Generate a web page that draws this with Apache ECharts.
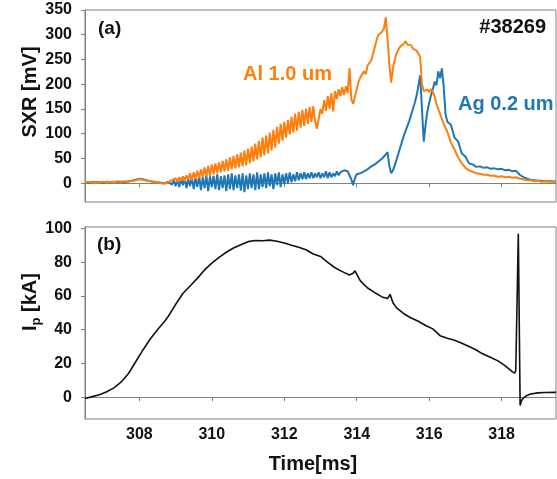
<!DOCTYPE html>
<html>
<head>
<meta charset="utf-8">
<script src="https://cdn.jsdelivr.net/npm/echarts@6/dist/echarts.min.js"></script>
<style>
html,body{margin:0;padding:0;background:#fff;}
#c{width:557px;height:479px;}
</style>
</head>
<body>
<div id="c"></div>
<script>
// ---- data ----
var tSxr = [
306.5,306.6,306.7,306.8,306.9,307.0,307.1,307.2,307.3,307.4,307.5,307.6,307.7,307.8,307.9,308.0,308.1,308.2,308.3,308.4,308.5,308.6,308.7,308.8,
308.85,308.9,308.95,309.0,
309.05,309.1,309.15,309.2,309.25,309.3,309.35,309.4,309.45,309.5,
309.55,309.6,309.65,309.7,309.75,309.8,309.85,309.9,309.95,310.0,
310.05,310.1,310.15,310.2,310.25,310.3,310.35,310.4,310.45,310.5,
310.55,310.6,310.65,310.7,310.75,310.8,310.85,310.9,310.95,311.0,
311.05,311.1,311.15,311.2,311.25,311.3,311.35,311.4,311.45,311.5,
311.55,311.6,311.65,311.7,311.75,311.8,311.85,311.9,311.95,312.0,
312.05,312.1,312.15,312.2,312.25,312.3,312.35,312.4,312.45,312.5,
312.55,312.6,312.65,312.7,312.75,312.8,312.85,312.9,312.95,313.0,
313.05,313.1,313.15,313.2,313.25,313.3,313.35,313.4,313.45,313.5,
313.55,313.6,313.65,313.7,313.75,313.8,313.85,313.9,313.95,314.0,
314.05,314.1,314.15,314.2,314.25,314.3,314.35,314.4,314.45,314.5,
314.55,314.6,314.65,314.7,314.75,314.8,314.85,314.9,314.95,315.0,
315.05,315.1,315.15,315.2,315.25,315.3,315.35,315.4,315.45,315.5,
315.55,315.6,315.65,315.7,315.75,315.8,315.85,315.9,315.95,316.0,
316.05,316.1,316.15,316.2,316.25,316.3,316.35,316.4,316.45,316.5,
316.6,316.7,316.8,316.9,317.0,317.1,317.2,317.3,317.4,317.5,
317.6,317.7,317.8,317.9,318.0,318.1,318.2,318.3,318.4,318.5,
318.6,318.7,318.8,318.9,319.0,319.1,319.2,319.3,319.4,319.5
];
var al = [
2,3,2,1,2,3,2,3,2,4,3,4,3,5,6,8,7,5,4,3,2,0,-1,2,
1,6,2,10,
3,12,5,14,4,16,7,20,6,22,
9,25,10,28,12,32,14,35,15,38,
18,40,20,42,22,45,24,48,25,52,
28,55,30,58,32,62,34,66,36,70,
40,74,44,80,48,85,52,92,56,96,
60,102,66,108,72,114,80,120,86,124,
92,128,98,134,102,140,106,144,112,148,
116,150,120,154,124,156,126,110,108,150,
140,168,146,176,150,182,145,186,170,190,
176,194,178,196,182,232,170,160,158,190,
205,214,210,226,220,238,234,248,246,275,
290,300,296,306,312,335,292,240,203,232,
250,262,270,276,272,282,287,280,276,279,
272,275,268,271,256,200,186,183,189,184,
190,185,175,160,150,140,130,120,112,104,
82,68,52,40,31,26,23,20,19,17,
17,15,15,13,14,12,13,11,12,9,
8,6,6,4,5,3,4,3,3,2
];
var ag = [
2,1,3,2,2,1,3,2,3,2,3,2,4,5,7,9,8,6,4,3,2,1,0,3,
2,-3,6,-6,
8,-8,10,-4,12,-10,8,-6,14,-12,
10,-8,15,-14,12,-10,16,-16,14,-8,
15,-12,18,-14,14,-10,16,-16,18,-12,
20,-14,16,-10,18,-15,20,-18,16,-12,
20,-10,18,-14,22,-12,18,-8,20,-10,
22,-6,18,-12,20,-4,22,-8,18,-2,
20,0,22,2,18,4,22,6,20,8,
22,8,20,10,22,10,20,12,22,10,
20,12,24,10,22,12,20,14,24,16,
22,20,26,22,24,28,8,-4,10,18,
14,20,16,24,22,28,30,34,36,38,
42,44,46,50,54,58,63,35,20,26,
36,48,60,72,84,96,106,116,126,138,
150,162,176,196,218,150,84,118,145,162,
178,190,205,198,226,212,232,195,140,124,
118,92,84,60,54,40,38,33,34,31,
32,29,30,28,29,26,27,24,25,17,
12,9,7,6,5,5,4,4,4,3
];
var tIp = [306.5,306.7,306.9,307.1,307.3,307.5,307.7,307.9,308.1,308.3,308.5,308.7,308.8,308.85,308.9,309.0,309.2,309.4,309.6,309.8,310.0,310.2,310.4,310.6,310.8,311.0,311.2,311.4,311.6,311.8,312.0,312.2,312.4,312.6,312.8,313.0,313.2,313.4,313.6,313.8,313.9,313.95,314.0,314.1,314.3,314.5,314.7,314.85,314.92,315.0,315.1,315.3,315.5,315.7,315.9,316.1,316.3,316.5,316.7,316.9,317.1,317.3,317.45,317.5,317.7,317.9,318.1,318.3,318.36,318.39,318.46,318.51,318.55,318.6,318.7,318.8,319.0,319.2,319.5];
var ip = [-0.8,0.3,1.4,3.2,5.5,9,14,21,28,34.5,40,45,48,48.5,51.5,55,61.5,66,70.5,75.5,79.5,83,86,88.5,90.5,92.3,93,92.8,93.2,92.5,91.5,90.2,89,87.5,85,83.5,80,76.8,74.5,72.5,73.5,75,73,69,64.8,62,59.5,58.5,61,56,53,49.5,47,45,42.5,40.5,36.5,35,33.8,32,30,28,26,26.3,23.5,21.5,18.5,15,14.2,16,97,-5,-2,-0.5,1,1.8,2.5,2.7,2.8];
var xTicks = [308,310,312,314,316,318];
var sxrTicks = [0,50,100,150,200,250,300,350];
var ipTicks = [0,20,40,60,80,100];

// ---- chart ----
var axisColor = '#808080';
var font = 'Liberation Sans, Arial, sans-serif';
function xAx(g, labels){
  return {type:'value', gridIndex:g, min:306.5, max:319.5,
    axisLine:{show:true, lineStyle:{color:axisColor, width:1}},
    axisTick:{show:true, customValues:xTicks, length:4, lineStyle:{color:axisColor}},
    axisLabel:{show:labels, customValues:xTicks, color:'#111', fontSize:16, fontWeight:'bold', fontFamily:font, margin:8},
    splitLine:{show:false}};
}
function yAx(g, mn, mx, ticks){
  return {type:'value', gridIndex:g, min:mn, max:mx,
    axisLine:{show:true, lineStyle:{color:axisColor, width:1}},
    axisTick:{show:true, customValues:ticks, length:4, lineStyle:{color:axisColor}},
    axisLabel:{customValues:ticks, color:'#111', fontSize:16, fontWeight:'bold', fontFamily:font, margin:13},
    splitLine:{show:false}};
}
var chart = echarts.init(document.getElementById('c'), null, {renderer:'canvas'});
chart.setOption({
  animation:false,
  backgroundColor:'#fff',
  grid:[
    {left:85, right:1, top:10, height:192, show:true, borderColor:axisColor, borderWidth:1, containLabel:false},
    {left:85, right:1, top:227, height:192, show:true, borderColor:axisColor, borderWidth:1, containLabel:false}
  ],
  xAxis:[xAx(0,false), xAx(1,true)],
  yAxis:[yAx(0,-38,350,sxrTicks), yAx(1,-13,101,ipTicks)],
  series:[
    {type:'line', xAxisIndex:0, yAxisIndex:0, showSymbol:false, lineStyle:{color:'#1f77b4', width:2}, itemStyle:{color:'#1f77b4'},
      data:tSxr.map(function(t,i){return [t, ag[i]];})},
    {type:'line', xAxisIndex:0, yAxisIndex:0, showSymbol:false, lineStyle:{color:'#ff7f0e', width:2}, itemStyle:{color:'#ff7f0e'},
      data:tSxr.map(function(t,i){return [t, al[i]];})},
    {type:'line', xAxisIndex:1, yAxisIndex:1, showSymbol:false, lineStyle:{color:'#111', width:1.6}, itemStyle:{color:'#111'},
      data:tIp.map(function(t,i){return [t, ip[i]];})}
  ],
  graphic:[
    {type:'text', x:98, y:29, style:{text:'(a)', font:'bold 19px '+font, fill:'#111', align:'left', verticalAlign:'middle'}},
    {type:'text', x:546, y:27, style:{text:'#38269', font:'bold 20px '+font, fill:'#111', align:'right', verticalAlign:'middle'}},
    {type:'text', x:243, y:74, style:{text:'Al 1.0 um', font:'bold 20px '+font, fill:'#ff7f0e', align:'left', verticalAlign:'middle'}},
    {type:'text', x:458, y:104, style:{text:'Ag 0.2 um', font:'bold 20px '+font, fill:'#1f77b4', align:'left', verticalAlign:'middle'}},
    {type:'text', x:97, y:245, style:{text:'(b)', font:'bold 19px '+font, fill:'#111', align:'left', verticalAlign:'middle'}},
    {type:'text', x:30, y:92, rotation:Math.PI/2, style:{text:'SXR [mV]', font:'bold 20px '+font, fill:'#111', align:'center', verticalAlign:'middle'}},
    {type:'text', x:30, y:302, rotation:Math.PI/2, style:{text:'{a|I}{b|p}{a| [kA]}', align:'center', verticalAlign:'middle',
      rich:{a:{fontSize:20, fontWeight:'bold', fontFamily:font, fill:'#111', color:'#111', lineHeight:26, verticalAlign:'middle'},
            b:{fontSize:13, fontWeight:'bold', fontFamily:font, fill:'#111', color:'#111', lineHeight:13, verticalAlign:'bottom'}}}},
    {type:'text', x:313, y:464, style:{text:'Time[ms]', font:'bold 20px '+font, fill:'#111', align:'center', verticalAlign:'middle'}}
  ]
});
</script>
</body>
</html>
